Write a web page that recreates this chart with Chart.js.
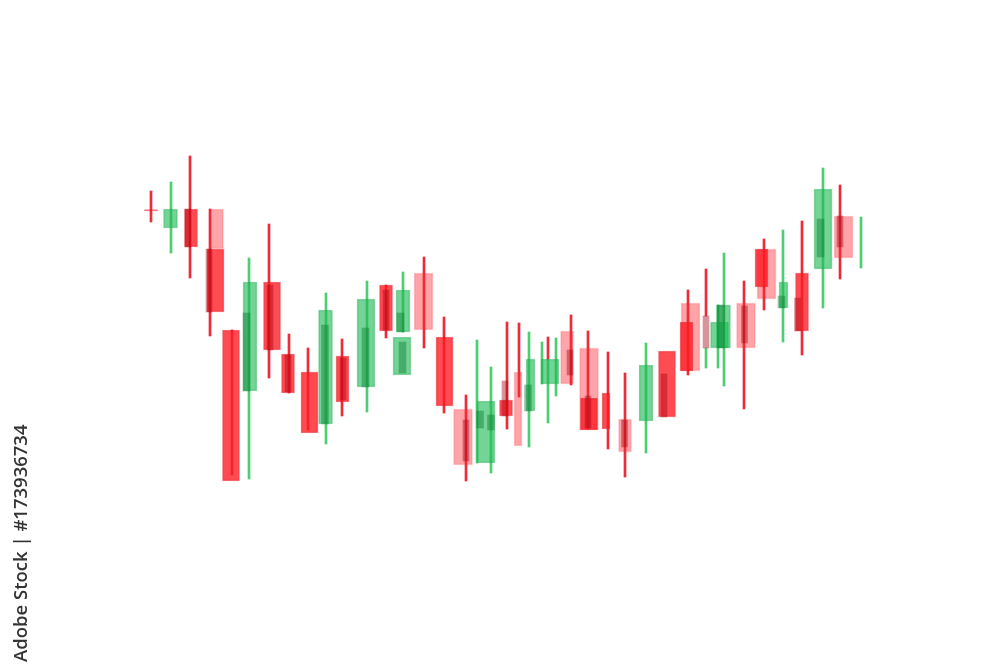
<!DOCTYPE html>
<html>
<head>
<meta charset="utf-8">
<script src="https://cdn.jsdelivr.net/npm/chart.js@4.4.0/dist/chart.umd.min.js"></script>
<style>
  html, body { margin: 0; background: #fff; }
  #wrap { width: 1000px; height: 667px; position: relative; }
</style>
</head>
<body>
<div id="wrap"><canvas id="candles"></canvas></div>
<script>
// each entry: [session, low, high]  (price units)
const redWicks = [
  [15.1, 44.5, 47.6], [19.0, 38.9, 51.1], [21.0, 33.1, 45.8], [23.2, 19.2, 33.7],
  [26.9, 28.9, 44.3], [28.9, 27.4, 33.3], [30.8, 23.7, 31.9], [34.2, 25.1, 32.8],
  [38.6, 32.9, 38.2], [42.4, 31.9, 41.0], [44.4, 25.4, 35.0], [46.6, 18.6, 27.2],
  [50.7, 23.8, 34.5], [51.9, 27.0, 34.4], [54.8, 30.8, 33.0], [57.1, 28.2, 35.2],
  [58.8, 23.8, 33.6], [60.8, 21.8, 31.5], [62.5, 19.0, 29.4], [68.8, 29.2, 37.7],
  [70.6, 35.1, 39.8], [74.4, 25.8, 38.6], [76.4, 35.7, 42.8], [80.2, 31.2, 44.6],
  [84.0, 38.8, 48.2]
];
const greenWicks = [
  [17.1, 41.4, 48.5], [24.9, 18.8, 40.9], [32.6, 22.3, 37.4], [36.7, 25.5, 38.6],
  [40.3, 33.5, 39.5], [47.7, 20.4, 32.7], [49.1, 19.4, 30.0], [52.9, 22.0, 33.5],
  [54.2, 28.3, 32.5], [54.8, 24.4, 30.8], [55.6, 27.1, 32.9], [64.6, 21.4, 32.4],
  [70.6, 29.9, 31.9], [71.8, 29.9, 36.2], [72.4, 28.1, 41.4], [78.3, 32.5, 43.7],
  [82.3, 35.9, 49.9], [86.1, 39.9, 45.0]
];

const redBodies = [
  [15.1, 45.6, 45.75], [19.1, 42.0, 45.8], [28.8, 27.4, 31.3], [34.25, 26.5, 31.1],
  [38.6, 33.6, 38.2], [50.6, 25.1, 26.7], [68.65, 29.6, 34.5], [76.15, 38.0, 41.8],
  [80.2, 33.6, 39.4]
];
const redBodiesWide = [
  [21.55, 35.5, 41.8], [23.1, 18.6, 33.7], [27.2, 31.7, 38.5], [30.95, 23.4, 29.5],
  [44.45, 26.1, 33.0], [58.9, 23.7, 26.9], [66.7, 25.0, 31.6]
];
const redBodiesNarrow = [[60.6, 23.8, 27.4]];

const pinkBodies = [[21.7, 41.8, 45.8], [56.7, 28.3, 33.6], [62.5, 21.5, 24.8]];
const pinkBodiesNarrow = [[51.8, 22.1, 29.5]];
const pinkBodiesWide = [
  [42.35, 33.7, 39.4], [46.3, 20.2, 25.8], [58.9, 23.7, 31.9], [69.05, 29.6, 36.4],
  [74.6, 31.9, 36.4], [76.65, 36.8, 41.8], [84.35, 40.9, 45.1]
];

const greenBodies = [
  [17.05, 43.9, 45.8], [25.0, 27.6, 38.5], [32.55, 24.3, 35.7], [40.3, 33.5, 37.7],
  [64.6, 24.6, 30.2], [72.35, 31.9, 36.2]
];
const greenBodiesWide = [
  [36.6, 28.0, 36.8], [40.2, 29.2, 33.0], [48.6, 20.4, 26.6], [55.0, 28.3, 30.8],
  [71.95, 31.9, 34.5], [82.3, 39.8, 47.8]
];
const greenBodiesNarrow = [[53.05, 25.6, 30.8], [78.35, 35.9, 38.5]];

// darker overlapping candles drawn on top
const darkRed = [
  [18.8, 42.0, 45.8], [20.9, 35.5, 41.8], [27.0, 31.7, 38.2], [28.8, 27.5, 31.2],
  [34.3, 26.7, 30.9], [38.6, 33.7, 37.7], [46.6, 20.6, 24.7], [50.5, 25.1, 28.6],
  [57.0, 29.2, 31.7], [58.8, 23.9, 27.1], [62.45, 22.0, 24.7], [66.4, 25.0, 29.3],
  [70.6, 31.9, 35.1], [74.45, 32.4, 36.1], [79.75, 33.6, 36.9], [84.0, 42.0, 45.1]
];
const darkGreen = [
  [24.65, 27.6, 35.4], [32.5, 24.3, 34.2], [36.55, 28.0, 33.9], [40.05, 33.5, 35.4],
  [40.25, 29.4, 32.5], [48.0, 23.9, 25.6], [49.1, 23.7, 25.2], [52.8, 25.6, 28.2],
  [72.1, 31.9, 36.2], [78.15, 35.9, 37.1], [82.05, 41.0, 44.8]
];

const creditText = "Adobe Stock | #173936734";

function pts(arr) {
  return arr.map(([x, lo, hi]) => ({ x, y: [lo, hi] }));
}

function candleSet(arr, fill, edge, thickness, order) {
  return {
    data: pts(arr),
    backgroundColor: fill,
    borderColor: edge,
    borderWidth: edge ? 1 : 0,
    borderSkipped: false,
    barThickness: thickness,
    grouped: false,
    order
  };
}

const RED = "rgba(255, 25, 35, 0.78)";
const RED_EDGE = "rgba(225, 15, 25, 0.55)";
const PINK = "rgba(255, 40, 50, 0.42)";
const PINK_EDGE = "rgba(255, 40, 50, 0.25)";
const GREEN = "rgba(30, 185, 85, 0.62)";
const GREEN_EDGE = "rgba(20, 165, 70, 0.45)";

const creditPlugin = {
  id: "credit",
  afterDraw(chart) {
    const ctx = chart.ctx;
    ctx.save();
    ctx.translate(22, 662);
    ctx.rotate(-Math.PI / 2);
    ctx.font = "600 18.5px 'Open Sans', sans-serif";
    ctx.fillStyle = "#333";
    ctx.textAlign = "left";
    ctx.textBaseline = "middle";
    ctx.fillText(creditText, 0, 0);
    ctx.restore();
  }
};

new Chart(document.getElementById("candles"), {
  type: "bar",
  data: {
    datasets: [
      candleSet(redWicks, "rgba(235, 20, 35, 0.9)", null, 2, 9),
      candleSet(greenWicks, "rgba(60, 200, 100, 0.9)", null, 2, 9),
      candleSet(pinkBodies, PINK, PINK_EDGE, 13, 8),
      candleSet(pinkBodiesNarrow, PINK, PINK_EDGE, 8, 8),
      candleSet(pinkBodiesWide, PINK, PINK_EDGE, 19, 8),
      candleSet(greenBodies, GREEN, GREEN_EDGE, 14, 7),
      candleSet(greenBodiesWide, GREEN, GREEN_EDGE, 18, 7),
      candleSet(greenBodiesNarrow, GREEN, GREEN_EDGE, 9, 7),
      candleSet(redBodies, RED, RED_EDGE, 13, 6),
      candleSet(redBodiesWide, RED, RED_EDGE, 17, 6),
      candleSet(redBodiesNarrow, RED, RED_EDGE, 8, 6),
      candleSet(darkRed, "rgba(160, 0, 15, 0.42)", null, 6, 5),
      candleSet(darkGreen, "rgba(0, 115, 40, 0.4)", null, 7, 5)
    ]
  },
  options: {
    responsive: true,
    maintainAspectRatio: false,
    animation: false,
    layout: { padding: 0 },
    plugins: { legend: { display: false }, tooltip: { enabled: false } },
    scales: {
      x: { type: "linear", min: 0, max: 100, offset: false, display: false },
      y: { type: "linear", min: 0, max: 66.7, display: false }
    }
  },
  plugins: [creditPlugin]
});
</script>
</body>
</html>
